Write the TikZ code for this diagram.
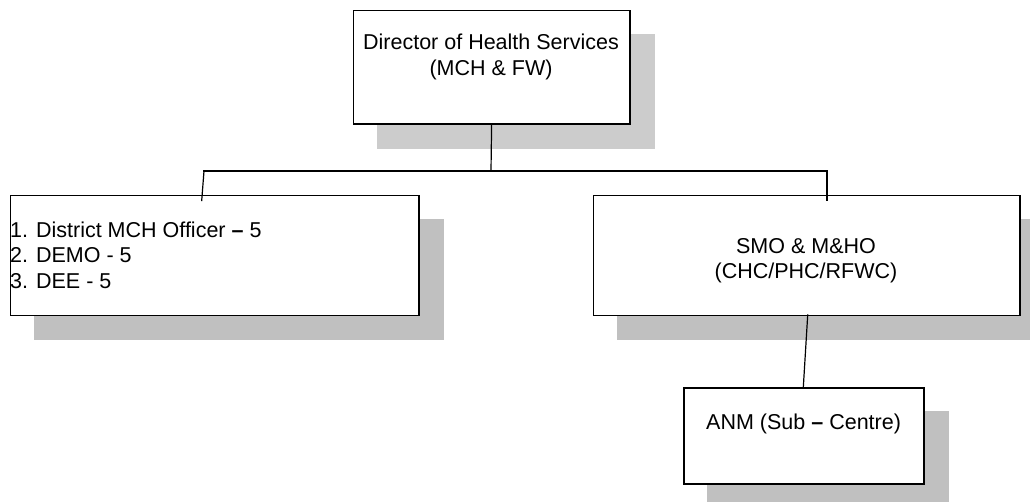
\documentclass[tikz,border=0pt]{standalone}
\usepackage{fontspec}
\setmainfont{Liberation Sans}
\usetikzlibrary{calc,backgrounds}
\definecolor{shadowA}{HTML}{CCCCCC}
\definecolor{shadowB}{HTML}{C0C0C0}
\begin{document}
\begin{tikzpicture}[x=1pt,y=-1pt,
  box/.style={draw=black, line width=1.2pt, fill=white, inner sep=0pt, anchor=north west},
  txt/.style={inner sep=0pt, font=\fontsize{21.5}{25.5}\selectfont},
  conn/.style={line width=1.2pt, line cap=rect}]
\useasboundingbox (0,0) rectangle (1030,501);
\clip (0,0) rectangle (1030,501);
% boxes
\node[box, minimum width=276.6pt, minimum height=113.3pt] (dir) at (352.7,10) {};
\node[box, minimum width=408.3pt, minimum height=120pt] (list) at (10,195) {};
\node[box, minimum width=426.6pt, minimum height=120pt] (smo) at (592.7,195) {};
\node[box, minimum width=240pt, minimum height=96pt] (anm) at (683.3,387.3) {};
% shadows
\begin{scope}[on background layer]
  \fill[shadowA] ($(dir.north west)+(24,24)$) rectangle ($(dir.south east)+(24,24)$);
  \fill[shadowB] ($(list.north west)+(24,24)$) rectangle ($(list.south east)+(24,24)$);
  \fill[shadowB] ($(smo.north west)+(24,24)$) rectangle ($(smo.south east)+(24,24)$);
  \fill[shadowB] ($(anm.north west)+(24,24)$) rectangle ($(anm.south east)+(24,24)$);
\end{scope}
% texts
\node[txt, anchor=base] (dirA) at (491,49.3) {Director of Health Services};
\node[txt, anchor=base] (dirB) at (491,75) {(MCH \& FW)};
\node[txt, anchor=base west] (listA) at (10,237.3) {1. District MCH Officer {\bfseries –} 5};
\node[txt, anchor=base west] (listB) at (10,262.7) {2. DEMO - 5};
\node[txt, anchor=base west] (listC) at (10,288.3) {3. DEE - 5};
\node[txt, anchor=base] (smoA) at (806,253.3) {SMO \& M\&HO};
\node[txt, anchor=base] (smoB) at (806,278.3) {(CHC/PHC/RFWC)};
\node[txt, anchor=base west] (anmA) at (706,429.5) {ANM (Sub {\bfseries –} Centre)};
% connectors
\coordinate (bus) at (491,171);
\coordinate (busL) at (204,171);
\coordinate (busR) at (827,171);
\coordinate (listIn) at (201.7,200.5);
\coordinate (smoIn) at (827,200.7);
\coordinate (smoOut) at (807.7,315);
\coordinate (anmIn) at (803.3,387.3);
\draw[conn] (dir.south) -- (bus);
\draw[conn] (busL) -- (busR);
\draw[conn] (busL) -- (listIn);
\draw[conn] (busR) -- (smoIn);
\draw[conn] (smoOut) -- (anmIn);
\end{tikzpicture}
\end{document}
